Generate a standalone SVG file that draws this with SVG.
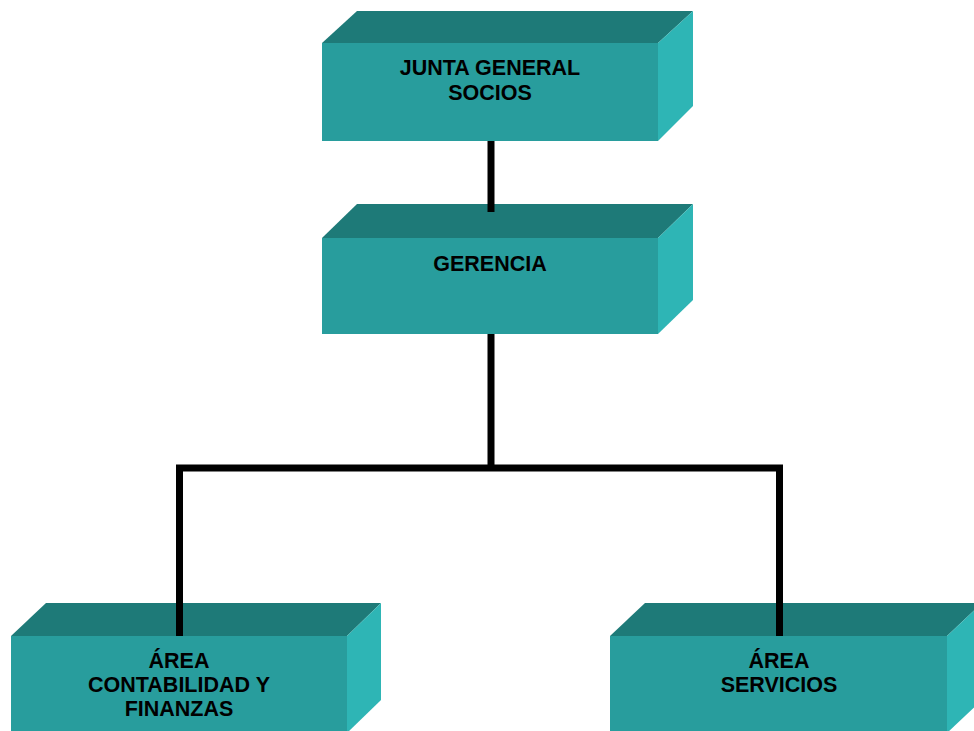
<svg xmlns="http://www.w3.org/2000/svg" width="974" height="731" viewBox="0 0 974 731">
<style>
.front{fill:#289d9d}
.top{fill:#1e7a78}
.side{fill:#2eb5b5}
.lbl{font-family:"Liberation Sans",Arial,sans-serif;font-weight:bold;font-size:21.5px;fill:#000;text-anchor:middle}
.conn{stroke:#000;stroke-width:7;fill:none}
</style>
<rect width="974" height="731" fill="#fff"/>
<g id="connectors">
<line class="conn" x1="491" y1="141" x2="491" y2="212"/>
<line class="conn" x1="491" y1="334" x2="491" y2="468"/>
<line class="conn" x1="176" y1="468" x2="783" y2="468" stroke-width="6"/>
<line class="conn" x1="179.5" y1="468" x2="179.5" y2="636"/>
<line class="conn" x1="779.5" y1="468" x2="779.5" y2="636"/>
</g>
<g id="junta">
<polygon class="top" points="322,43 357,11 693,11 658,43"/>
<polygon class="side" points="658,43 693,11 693,106 658,141"/>
<rect class="front" x="322" y="43" width="336" height="98"/>
<text class="lbl" x="490" y="75">JUNTA GENERAL</text>
<text class="lbl" x="490" y="100">SOCIOS</text>
</g>
<g id="gerencia">
<polygon class="top" points="322,238 357,204 693,204 658,238"/>
<polygon class="side" points="658,238 693,204 693,300 658,334"/>
<rect class="front" x="322" y="238" width="336" height="96"/>
<text class="lbl" x="490" y="271">GERENCIA</text>
</g>
<line class="conn" x1="491" y1="204" x2="491" y2="212"/>
<g id="contabilidad">
<polygon class="top" points="11,636 46,603 381,603 347,636"/>
<polygon class="side" points="347,636 381,603 381,700 347,733"/>
<rect class="front" x="11" y="636" width="336" height="97"/>
<text class="lbl" x="179" y="668">ÁREA</text>
<text class="lbl" x="179" y="692">CONTABILIDAD Y</text>
<text class="lbl" x="179" y="716">FINANZAS</text>
</g>
<g id="servicios">
<polygon class="top" points="610,636 645,603 982,603 947,636"/>
<polygon class="side" points="947,636 982,603 982,700 947,733"/>
<rect class="front" x="610" y="636" width="337" height="97"/>
<text class="lbl" x="779" y="668">ÁREA</text>
<text class="lbl" x="779" y="692">SERVICIOS</text>
</g>
<line class="conn" x1="179.5" y1="600" x2="179.5" y2="636"/>
<line class="conn" x1="779.5" y1="600" x2="779.5" y2="636"/>
</svg>
